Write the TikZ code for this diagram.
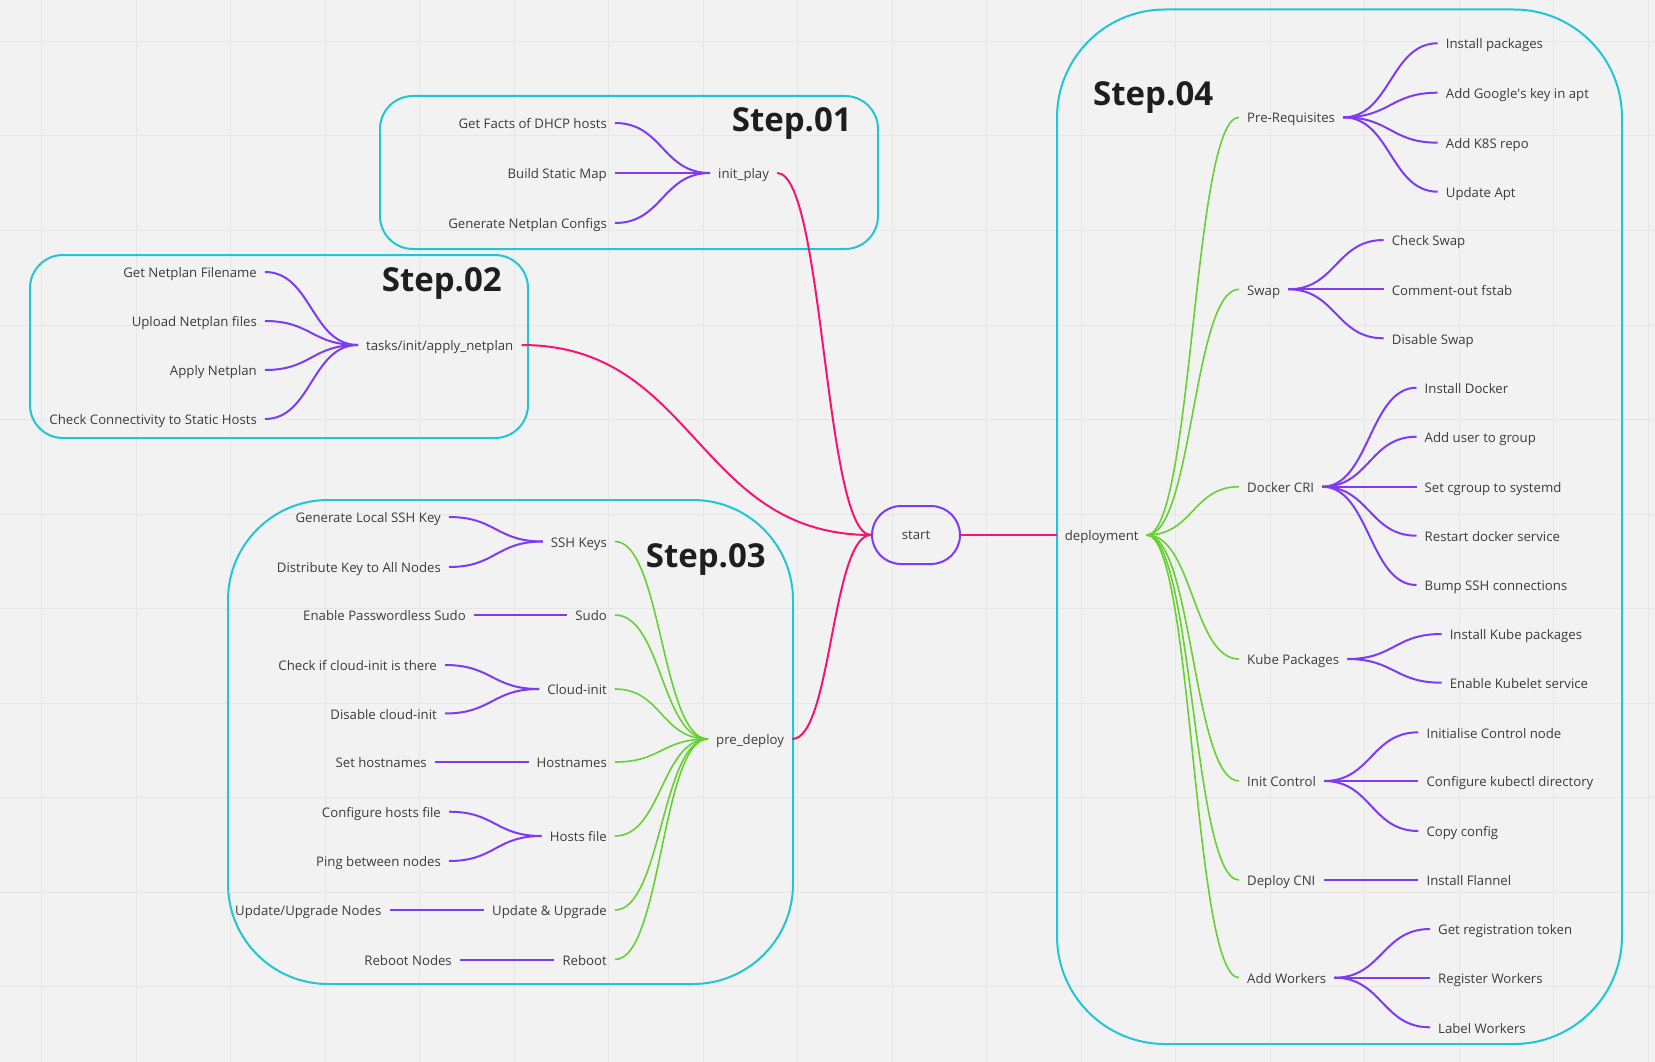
\documentclass[tikz,border=0pt]{standalone}
\usepackage{fontspec}
\setmainfont{Open Sans}
\usetikzlibrary{calc,shapes.misc}
\definecolor{bg}{HTML}{F2F2F2}
\definecolor{gridc}{HTML}{E6E6E6}
\definecolor{cyanb}{HTML}{22C6D3}
\definecolor{purp}{HTML}{7E3BF2}
\definecolor{pinkc}{HTML}{F5166E}
\definecolor{greenc}{HTML}{66D132}
\definecolor{txt}{HTML}{3C3C3C}
\definecolor{ttl}{HTML}{1E1E1E}
\newcommand\mmconn[3]{\draw[#1] let \p1=(#2), \p2=(#3), \n1={0.5*(\x2-\x1)} in (#2) .. controls +(\n1,0) and +(-\n1,0) .. (#3);}
\begin{document}
\begin{tikzpicture}[x=1pt,y=-1pt,
  every node/.style={font=\fontsize{13.2}{15}\selectfont, text=txt},
  lbl/.style={inner xsep=8pt, inner ysep=0pt, text height=12pt, text depth=0.6pt},
  steptitle/.style={font=\fontsize{33}{36}\selectfont\bfseries, text=ttl, inner sep=0pt},
  stepbox/.style={draw=cyanb, line width=2pt},
  purpline/.style={draw=purp, line width=2pt},
  greenline/.style={draw=greenc, line width=1.6pt},
  pinkline/.style={draw=pinkc, line width=2pt},
  startnode/.style={draw=purp, line width=2pt, rounded rectangle, minimum width=88pt, minimum height=58pt, inner sep=0pt}
]
\fill[bg] (0,0) rectangle (1655,1062);
\useasboundingbox (0,0) rectangle (1655,1062);
\foreach \k in {0,...,17} \draw[gridc, line width=1pt] ({41.5+94.5*\k},0) -- ({41.5+94.5*\k},1062);
\foreach \k in {0,...,11} \draw[gridc, line width=1pt] (0,{41.5+94.5*\k}) -- (1655,{41.5+94.5*\k});

% boxes
\draw[stepbox, rounded corners=33pt] (380,96) rectangle (878,249);
\draw[stepbox, rounded corners=33pt] (30,255) rectangle (528,438);
\draw[stepbox, rounded corners=100pt] (228,500) rectangle (793,984);
\draw[stepbox, rounded corners=108pt] (1057,9.5) rectangle (1622,1044);

% titles
\node[steptitle, anchor=base east] (s1) at (852,132) {Step.01};
\node[steptitle, anchor=base east] (s2) at (502,291) {Step.02};
\node[steptitle, anchor=base east] (s3) at (766,567) {Step.03};
\node[steptitle, anchor=base west] (s4) at (1093,106) {Step.04};

% start
\node[startnode] (st) at (916,535) {start};
\node[lbl, anchor=west] (dep) at (1056.6,535) {deployment};

% Step 01
\node[lbl, anchor=east] (gf) at (615,123) {Get Facts of DHCP hosts};
\node[lbl, anchor=east] (bs) at (615,173) {Build Static Map};
\node[lbl, anchor=east] (gn) at (615,223) {Generate Netplan Configs};
\node[lbl, anchor=west] (ip) at (710,173) {init\_play};
\mmconn{purpline}{gf.east}{ip.west}
\mmconn{purpline}{bs.east}{ip.west}
\mmconn{purpline}{gn.east}{ip.west}

% Step 02
\node[lbl, anchor=east] (gnf) at (265,272) {Get Netplan Filename};
\node[lbl, anchor=east] (unf) at (265,321) {Upload Netplan files};
\node[lbl, anchor=east] (anp) at (265,370) {Apply Netplan};
\node[lbl, anchor=east] (ccs) at (265,419) {Check Connectivity to Static Hosts};
\node[lbl, anchor=west] (tia) at (358,345) {tasks/init/apply\_netplan};
\mmconn{purpline}{gnf.east}{tia.west}
\mmconn{purpline}{unf.east}{tia.west}
\mmconn{purpline}{anp.east}{tia.west}
\mmconn{purpline}{ccs.east}{tia.west}

% Step 03
\node[lbl, anchor=west] (pd) at (708,739) {pre\_deploy};
\node[lbl, anchor=east] (ssh) at (615,541.5) {SSH Keys};
\node[lbl, anchor=east] (sudo) at (615,615) {Sudo};
\node[lbl, anchor=east] (cli) at (615,689) {Cloud-init};
\node[lbl, anchor=east] (hn) at (615,762) {Hostnames};
\node[lbl, anchor=east] (hf) at (615,836) {Hosts file};
\node[lbl, anchor=east] (uu) at (615,910) {Update \& Upgrade};
\node[lbl, anchor=east] (rb) at (615,959.5) {Reboot};
\node[lbl, anchor=east] (gls) at (449,517) {Generate Local SSH Key};
\node[lbl, anchor=east] (dka) at (449,567) {Distribute Key to All Nodes};
\node[lbl, anchor=east] (eps) at (474,615) {Enable Passwordless Sudo};
\node[lbl, anchor=east] (cic) at (445,665) {Check if cloud-init is there};
\node[lbl, anchor=east] (dci) at (445,713.5) {Disable cloud-init};
\node[lbl, anchor=east] (sh) at (435,762) {Set hostnames};
\node[lbl, anchor=east] (chf) at (449,811.7) {Configure hosts file};
\node[lbl, anchor=east] (pbn) at (449,861) {Ping between nodes};
\node[lbl, anchor=east] (uun) at (389.5,910) {Update/Upgrade Nodes};
\node[lbl, anchor=east] (rbn) at (460,959.5) {Reboot Nodes};
\foreach \q in {ssh,sudo,cli,hn,hf,uu,rb} {\mmconn{greenline}{\q.east}{pd.west}}
\mmconn{purpline}{gls.east}{ssh.west}
\mmconn{purpline}{dka.east}{ssh.west}
\mmconn{purpline}{eps.east}{sudo.west}
\mmconn{purpline}{cic.east}{cli.west}
\mmconn{purpline}{dci.east}{cli.west}
\mmconn{purpline}{sh.east}{hn.west}
\mmconn{purpline}{chf.east}{hf.west}
\mmconn{purpline}{pbn.east}{hf.west}
\mmconn{purpline}{uun.east}{uu.west}
\mmconn{purpline}{rbn.east}{rb.west}

% pink
\mmconn{pinkline}{ip.east}{st.west}
\mmconn{pinkline}{tia.east}{st.west}
\mmconn{pinkline}{pd.east}{st.west}
\draw[pinkline] (st.east) -- (dep.west);

% Step 04
\node[lbl, anchor=west] (pr) at (1239,117.3) {Pre-Requisites};
\node[lbl, anchor=west] (sw) at (1239,289.3) {Swap};
\node[lbl, anchor=west] (dc) at (1239,486.7) {Docker CRI};
\node[lbl, anchor=west] (kp) at (1239,659) {Kube Packages};
\node[lbl, anchor=west] (ic) at (1239,781) {Init Control};
\node[lbl, anchor=west] (dcn) at (1239,880) {Deploy CNI};
\node[lbl, anchor=west] (aw) at (1239,977.7) {Add Workers};
\foreach \q in {pr,sw,dc,kp,ic,dcn,aw} {\mmconn{greenline}{dep.east}{\q.west}}

\node[lbl, anchor=west] (pr1) at (1437.7,43.3) {Install packages};
\node[lbl, anchor=west] (pr2) at (1437.7,92.7) {Add Google\textquotesingle s key in apt};
\node[lbl, anchor=west] (pr3) at (1437.7,142.7) {Add K8S repo};
\node[lbl, anchor=west] (pr4) at (1437.7,191.7) {Update Apt};
\foreach \c in {pr1,pr2,pr3,pr4} {\mmconn{purpline}{pr.east}{\c.west}}

\node[lbl, anchor=west] (sw1) at (1383.7,240) {Check Swap};
\node[lbl, anchor=west] (sw2) at (1383.7,289.3) {Comment-out fstab};
\node[lbl, anchor=west] (sw3) at (1383.7,338.3) {Disable Swap};
\foreach \c in {sw1,sw2,sw3} {\mmconn{purpline}{sw.east}{\c.west}}

\node[lbl, anchor=west] (dc1) at (1416.5,387.7) {Install Docker};
\node[lbl, anchor=west] (dc2) at (1416.5,436.7) {Add user to group};
\node[lbl, anchor=west] (dc3) at (1416.5,486.7) {Set cgroup to systemd};
\node[lbl, anchor=west] (dc4) at (1416.5,535.7) {Restart docker service};
\node[lbl, anchor=west] (dc5) at (1416.5,585) {Bump SSH connections};
\foreach \c in {dc1,dc2,dc3,dc4,dc5} {\mmconn{purpline}{dc.east}{\c.west}}

\node[lbl, anchor=west] (kp1) at (1441.6,634) {Install Kube packages};
\node[lbl, anchor=west] (kp2) at (1441.6,682.7) {Enable Kubelet service};
\foreach \c in {kp1,kp2} {\mmconn{purpline}{kp.east}{\c.west}}

\node[lbl, anchor=west] (ic1) at (1418.4,732.3) {Initialise Control node};
\node[lbl, anchor=west] (ic2) at (1418.4,781) {Configure kubectl directory};
\node[lbl, anchor=west] (ic3) at (1418.4,831) {Copy config};
\foreach \c in {ic1,ic2,ic3} {\mmconn{purpline}{ic.east}{\c.west}}

\node[lbl, anchor=west] (dcn1) at (1418.4,880) {Install Flannel};
\mmconn{purpline}{dcn.east}{dcn1.west}

\node[lbl, anchor=west] (aw1) at (1430,929) {Get registration token};
\node[lbl, anchor=west] (aw2) at (1430,977.7) {Register Workers};
\node[lbl, anchor=west] (aw3) at (1430,1027.3) {Label Workers};
\foreach \c in {aw1,aw2,aw3} {\mmconn{purpline}{aw.east}{\c.west}}
\end{tikzpicture}
\end{document}
